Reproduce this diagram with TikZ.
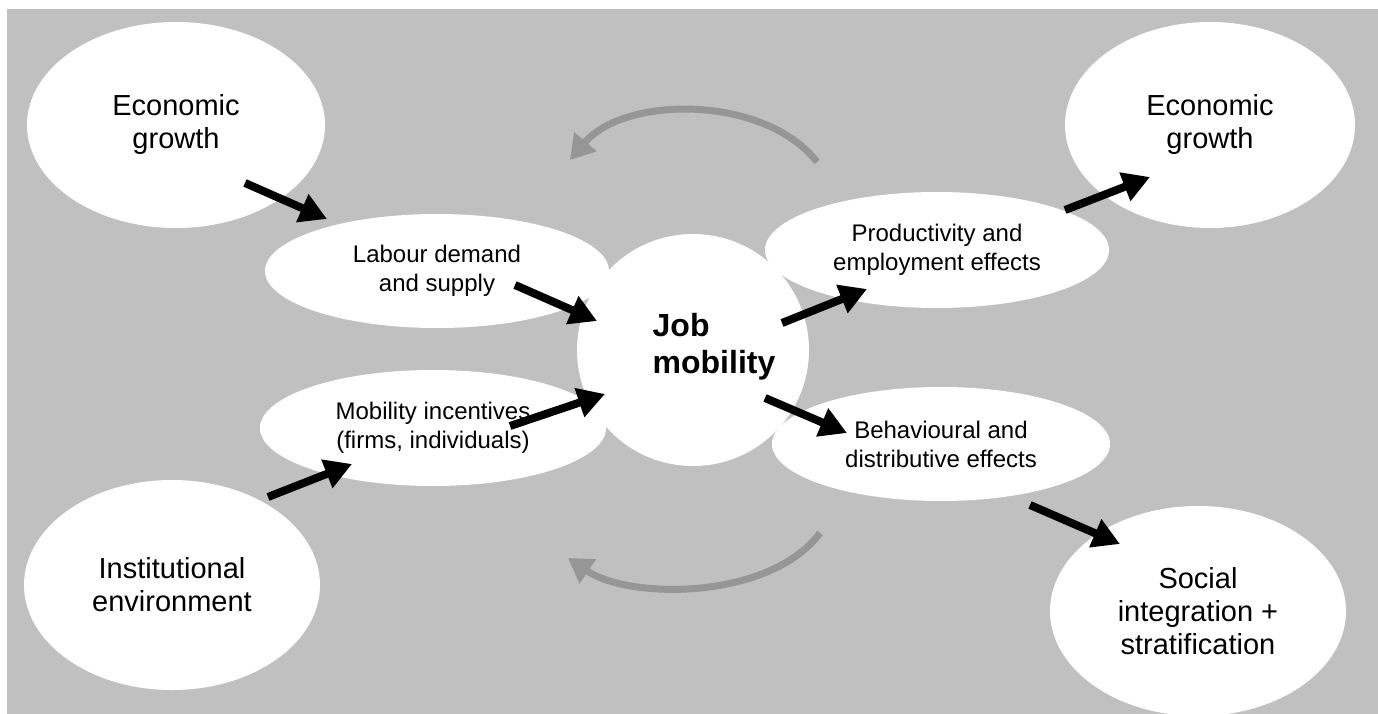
\documentclass[tikz,border=0pt]{standalone}
\usepackage{fontspec}
\setmainfont{Liberation Sans}
\usetikzlibrary{shapes.geometric,arrows.meta}
\definecolor{bggray}{HTML}{C0C0C0}
\definecolor{cycgray}{HTML}{969696}
\begin{document}
\begin{tikzpicture}[x=1pt,y=-1pt,
  bigell/.style={ellipse,fill=white,inner sep=0pt,align=center,font=\fontsize{29}{33}\selectfont},
  smallell/.style={ellipse,fill=white,inner sep=0pt,align=center,font=\fontsize{24}{29}\selectfont},
  blk/.style={line width=8pt,-{Triangle[length=27pt,width=29pt]}},
  cyc/.style={line width=7pt,draw=cycgray,-{Triangle[length=24pt,width=28pt]}}]
\useasboundingbox (0,0) rectangle (1378,714);
\fill[bggray] (7,9) rectangle (1378,714);

\node[bigell,minimum width=298pt,minimum height=206pt] (eg1) at (176,125) {Economic\\growth};
\node[bigell,minimum width=290pt,minimum height=206pt] (eg2) at (1210,125) {Economic\\growth};
\node[bigell,minimum width=296pt,minimum height=210pt] (inst) at (172,585) {Institutional\\environment};
\node[bigell,minimum width=296pt,minimum height=210pt] (soc) at (1198,611) {Social\\integration +\\stratification};
\node[smallell,minimum width=344pt,minimum height=114pt] (lab) at (437,271) {Labour demand\\and supply};
\node[smallell,minimum width=346pt,minimum height=116pt] (mob) at (433,428) {Mobility incentives\\(firms, individuals)};
\node[smallell,minimum width=344pt,minimum height=116pt] (prod) at (937,250) {Productivity and\\employment effects};
\node[smallell,minimum width=338pt,minimum height=114pt] (beh) at (941,444) {Behavioural and\\distributive effects};
\node[circle,fill=white,inner sep=0pt,minimum size=232pt] (job) at (693,350) {};
\node[align=left,inner sep=0pt,font=\fontsize{32}{37}\selectfont\bfseries] (jobtxt) at (714,347) {Job\\mobility};

% cycle arcs
\coordinate (c1s) at (817,162);
\coordinate (c1e) at (570,160);
\coordinate (c2s) at (820,533);
\coordinate (c2e) at (568,558);
\draw[cyc] (c1s) .. controls (765,95) and (625,95) .. (c1e);
\draw[cyc] (c2s) .. controls (770,600) and (630,600) .. (c2e);

% black arrows
\coordinate (a1s) at (245,183); \coordinate (a1e) at (327,219);
\coordinate (a2s) at (515,285); \coordinate (a2e) at (597,321);
\coordinate (a3s) at (268,497); \coordinate (a3e) at (352,464);
\coordinate (a4s) at (510,426); \coordinate (a4e) at (605,394);
\coordinate (a5s) at (782,323); \coordinate (a5e) at (867,289);
\coordinate (a6s) at (765,398); \coordinate (a6e) at (847,433);
\coordinate (a7s) at (1065,210); \coordinate (a7e) at (1150,177);
\coordinate (a8s) at (1030,505); \coordinate (a8e) at (1120,544);
\foreach \i in {1,...,8} {\draw[blk] (a\i s) -- (a\i e);}
\end{tikzpicture}
\end{document}
